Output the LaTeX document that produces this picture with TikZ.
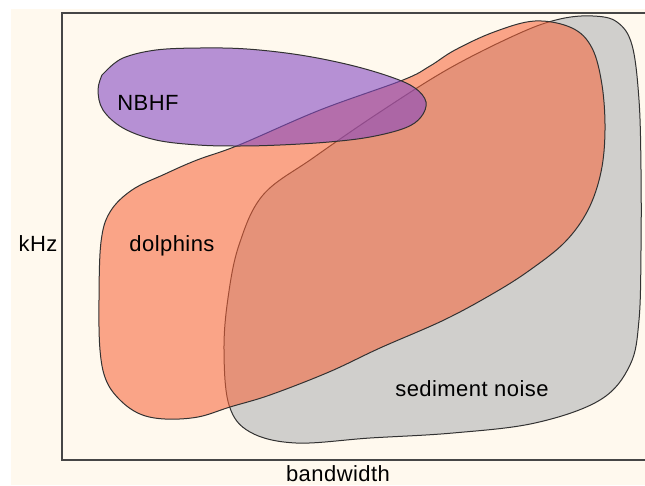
\documentclass[tikz,border=0pt]{standalone}
\usepackage{fontspec}
\setmainfont{Liberation Sans}[LetterSpace=2]
\definecolor{cream}{RGB}{255,249,238}
\definecolor{sedgray}{RGB}{208,207,204}
\definecolor{salmon}{RGB}{247,99,56}
\definecolor{nbpurple}{RGB}{134,74,195}
\definecolor{edge}{RGB}{50,50,50}
\definecolor{framec}{RGB}{70,70,70}
\begin{document}
\begin{tikzpicture}[x=1pt,y=-1pt,
  blob/.style={draw=edge,line width=1pt,line join=round},
  lbl/.style={font=\fontsize{22}{26}\selectfont,inner sep=0pt,anchor=base,text=black}]
\useasboundingbox (0,0) rectangle (645,485);
\fill[white] (0,0) rectangle (645,485);
\fill[cream] (11,9) rectangle (645,485);
% sediment noise
\path[blob,fill=sedgray] plot[smooth cycle,tension=0.6] coordinates {
 (593,16) (617,22) (632,45) (639,100) (641,170) (641,250) (639,320) (630,365)
 (600,400) (535,423) (453,433) (370,438) (296,443) (250,432) (229,405)
 (224,350) (228,298) (239,245) (263,195) (313,158) (380,112) (450,68) (520,33) (560,19)};
% dolphins
\path[blob,fill=salmon,fill opacity=0.56] plot[smooth cycle,tension=0.6] coordinates {
 (535,21) (572,28) (592,48) (602,85) (605,130) (601,172) (588,210) (565,242)
 (530,270) (494,293) (444,320) (380,348) (329,372) (270,395) (230,407)
 (198,417) (165,419) (140,414) (120,400) (106,380) (100,350) (99,300) (101,242)
 (110,212) (132,190) (165,174) (197,160) (239,145) (320,110) (403,80) (430,66)
 (455,50) (494,32)};
% NBHF
\path[blob,fill=nbpurple,fill opacity=0.6] plot[smooth,tension=0.6] coordinates {
 (106,71) (123,58) (156,50) (200,48) (247,49) (300,55) (350,65) (391,77)
 (415,88) (426,102) (421,117) (405,128) (370,137) (329,142) (280,145)
 (239,146) (198,145) (156,140) (123,128) (103,110) (98,90) (102,75)} -- cycle;
% frame
\draw[framec,line width=1.5pt] (650,13) -- (62,13) -- (62,460) -- (650,460);
% labels
\node[lbl] (nbhf) at (148,110) {NBHF};
\node[lbl] (dol) at (172,251) {dolphins};
\node[lbl] (sed) at (472,396) {sediment noise};
\node[lbl] (khz) at (38,251) {kHz};
\node[lbl,text depth=0pt] (bw) at (338,481) {bandwidth};
\end{tikzpicture}
\end{document}
